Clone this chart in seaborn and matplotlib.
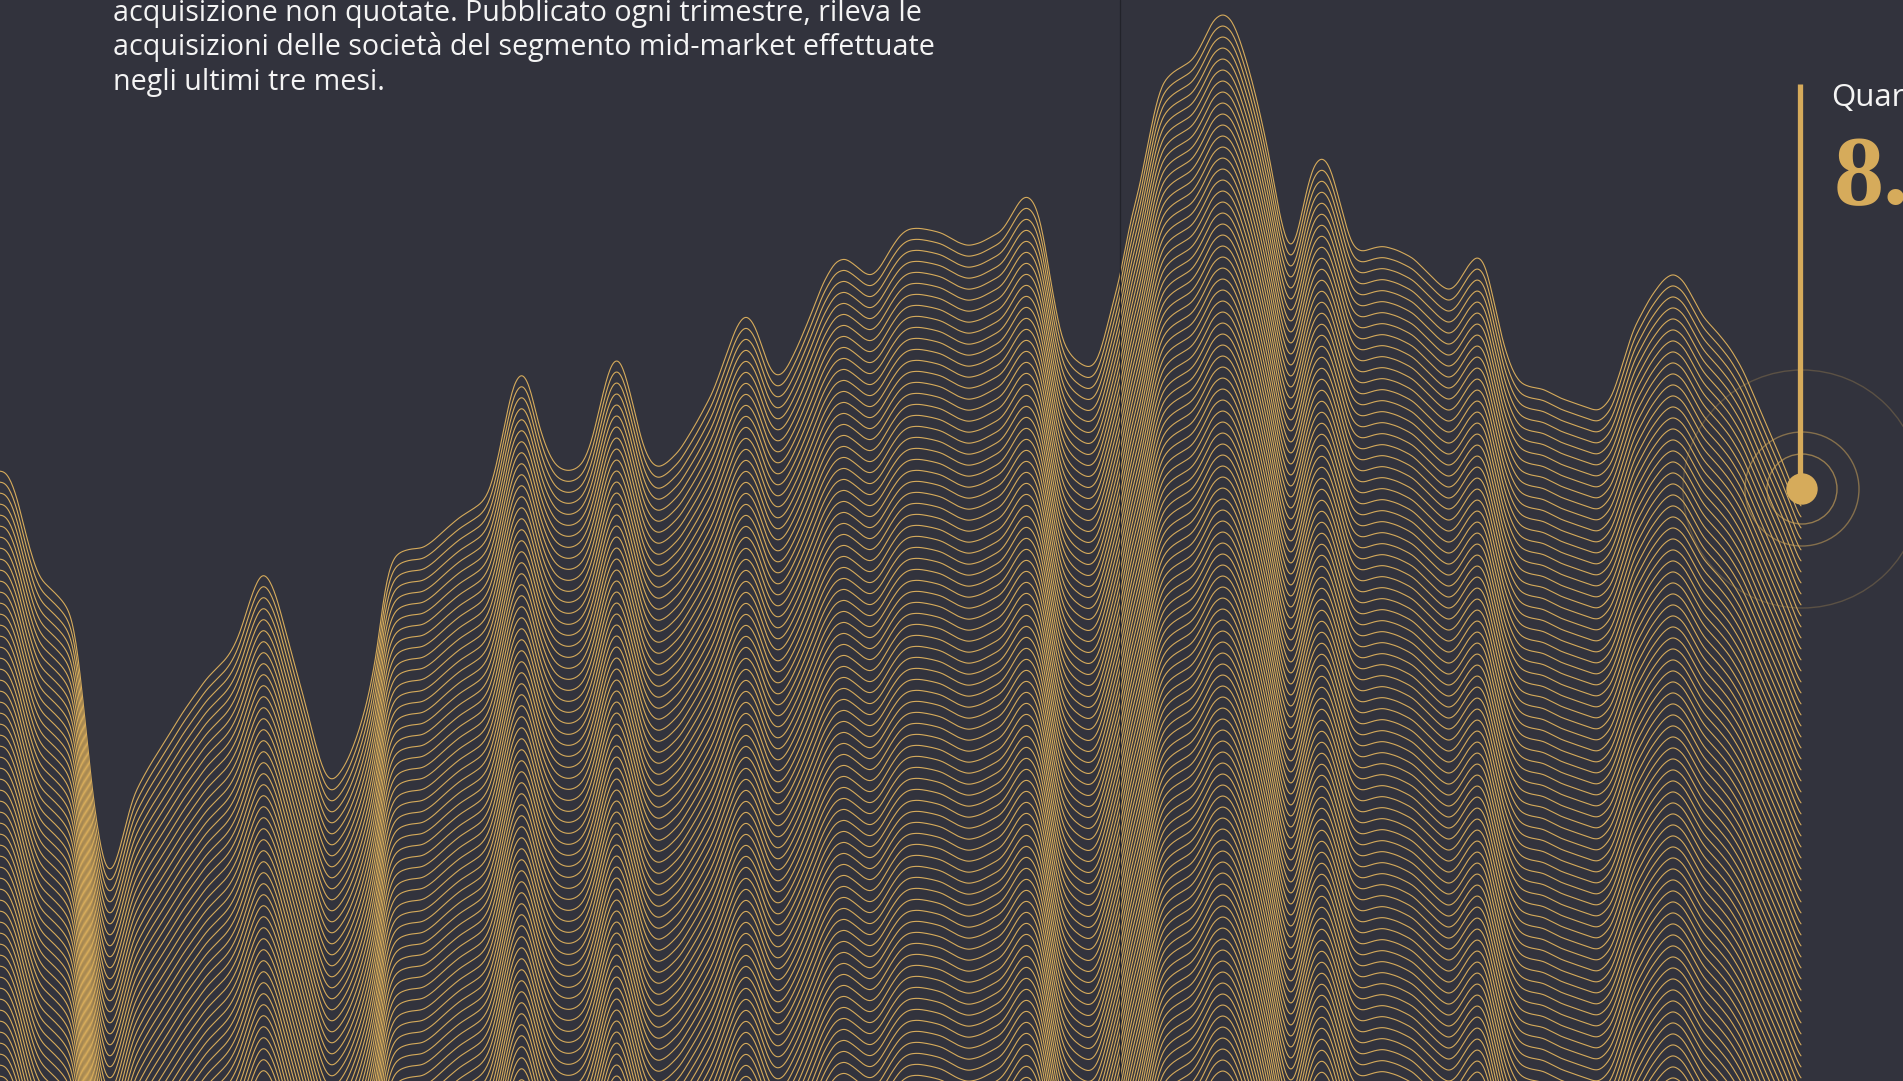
import numpy as np
import pandas as pd
import matplotlib
matplotlib.use("Agg")
import matplotlib.pyplot as plt
from matplotlib.patches import Circle
import seaborn as sns

# Top ridge of the index (horizontal position, vertical position)
ridge_x = [0,5,10,17,23,30,37,42,50,60,68,73,78,83,88,93,98,103,107,110,115,120,127,133,140,150,167,183,197,207,217,227,235,242,250,257,263,270,277,287,297,307,315,322,327,332,338,347,357,367,377,383,387,393,400,410,423,433,447,460,473,483,490,497,505,513,522,530,538,547,555,563,570,578,585,593,602,610,617,623,632,642,650,658,667,680,697,713,727,737,746,755,763,770,777,785,797,810,823,835,845,855,865,872,880,890,900,908,918,930,942,957,968,980,993,1002,1010,1020,1027,1035,1042,1050,1057,1063,1072,1082,1090,1097,1103,1113,1120,1130,1140,1150,1157,1163,1173,1185,1193,1203,1213,1223,1232,1240,1250,1260,1270,1278,1285,1291,1297,1305,1313,1322,1330,1338,1347,1353,1362,1373,1383,1397,1413,1427,1440,1449,1457,1467,1477,1485,1493,1503,1512,1520,1530,1543,1560,1577,1597,1603,1612,1623,1633,1650,1663,1673,1683,1693,1703,1717,1730,1743,1757,1770,1783,1802]
ridge_y = [471,471,478,497,523,550,572,581,588,598,608,622,653,700,750,797,833,860,870,873,866,848,820,797,783,765,738,712,692,678,668,658,645,627,600,581,572,580,598,637,673,710,743,767,778,781,776,762,737,703,653,600,577,558,552,549,548,541,528,517,509,502,490,463,423,385,371,386,423,450,465,470,471,468,460,437,397,366,357,366,400,443,462,468,463,450,422,392,353,325,314,325,350,370,377,372,348,317,283,262,258,265,274,276,268,250,235,229,228,230,233,242,246,243,236,231,218,200,195,203,227,277,317,343,357,365,368,362,343,303,277,223,185,133,100,82,72,65,60,42,20,13,20,40,73,113,160,207,238,250,237,197,166,156,166,195,230,247,252,248,246,250,258,272,285,291,285,267,255,263,297,343,370,383,387,389,398,404,411,408,397,363,330,298,280,273,280,298,317,332,348,370,403,433,463,512]

BG = "#32333D"
GOLD = "#D6AB5B"
WIDTH, HEIGHT = 1903, 1081
LINE_STEP = 11
LINE_COUNT = 98

sns.set_theme(style="white")
plt.rcParams["font.family"] = ["Open Sans", "DejaVu Sans"]

# curve the ridge the way the source draws it: a smooth path through the read points
grid = np.arange(0.0, 1802.0, 1.0)
raw = np.interp(grid, ridge_x, ridge_y)
sigma = 3.5
kx = np.arange(-12, 13)
kernel = np.exp(-0.5 * (kx / sigma) ** 2)
kernel /= kernel.sum()
smooth = np.convolve(np.pad(raw, 12, mode="edge"), kernel, mode="valid")

frame = pd.DataFrame({
    "x": np.tile(grid, LINE_COUNT),
    "y": np.concatenate([smooth + k * LINE_STEP for k in range(LINE_COUNT)]),
    "line": np.repeat(np.arange(LINE_COUNT), grid.size),
})

fig = plt.figure(figsize=(WIDTH / 100, HEIGHT / 100), dpi=100, facecolor=BG)
ax = fig.add_axes([0, 0, 1, 1], facecolor=BG)

sns.lineplot(data=frame, x="x", y="y", units="line", estimator=None, sort=False,
             color=GOLD, linewidth=0.8, legend=False, ax=ax, zorder=2)

ax.set_xlim(0, WIDTH)
ax.set_ylim(HEIGHT, 0)
ax.set_axis_off()

# reference rule
ax.axvline(1119.5, color="#22232A", lw=0.9, zorder=3)

# latest-value marker
ax.add_patch(Circle((1802, 489), 35, fill=False, ec=GOLD, alpha=0.6, lw=1.0, zorder=3))
ax.add_patch(Circle((1802, 489), 57, fill=False, ec=GOLD, alpha=0.5, lw=1.0, zorder=3))
ax.add_patch(Circle((1802, 489), 119, fill=False, ec=GOLD, alpha=0.25, lw=1.0, zorder=3))
ax.plot([1800, 1800], [84, 489], color=GOLD, lw=3.8, solid_capstyle="butt", zorder=4)
ax.add_patch(Circle((1802, 489), 15.7, fc=GOLD, ec="none", zorder=5))

# texts
body = ["acquisizione non quotate. Pubblicato ogni trimestre, rileva le",
        "acquisizioni delle società del segmento mid-market effettuate",
        "negli ultimi tre mesi."]
for txt, base in zip(body, [21, 55, 90]):
    ax.text(113, base, txt, color="#F4F4F4", fontsize=20.6,
            va="baseline", ha="left", zorder=6)
ax.text(1831, 106, "Quarto", color="#F4F4F4", fontsize=22.5,
        va="baseline", ha="left", zorder=6)
ax.text(1834, 204, "8.7", color=GOLD, fontsize=72, family=["Liberation Serif", "DejaVu Serif"],
        fontweight="bold", va="baseline", ha="left", zorder=6)

fig.savefig("out.png", dpi=100, facecolor=BG)
